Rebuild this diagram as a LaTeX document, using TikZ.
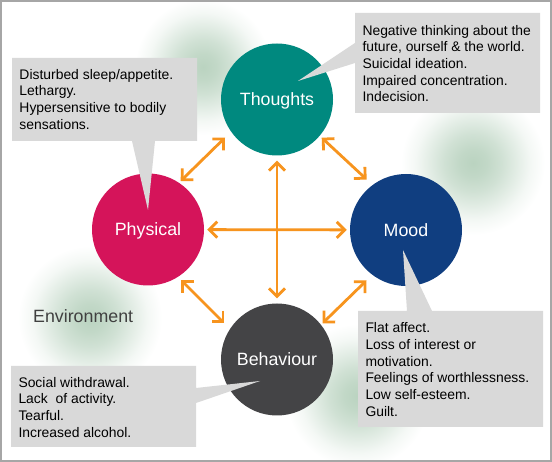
\documentclass[tikz,border=0pt]{standalone}
\usepackage{fontspec}
\setmainfont{Liberation Sans}
\usetikzlibrary{arrows.meta}
\definecolor{cthought}{RGB}{0,137,127}
\definecolor{cphys}{RGB}{213,20,90}
\definecolor{cmood}{RGB}{16,62,128}
\definecolor{cbehav}{RGB}{68,68,70}
\definecolor{callgray}{RGB}{217,217,217}
\definecolor{corange}{RGB}{247,148,30}
\definecolor{framegray}{RGB}{166,166,166}
\definecolor{envtext}{RGB}{64,64,64}
\definecolor{glowc}{RGB}{186,211,192}
\pgfdeclareradialshading{glow}{\pgfpoint{0bp}{0bp}}{color(0bp)=(glowc); color(5bp)=(glowc!88!white); color(10bp)=(glowc!68!white); color(15bp)=(glowc!42!white); color(20bp)=(glowc!16!white); color(25bp)=(white); color(50bp)=(white)}
\tikzset{
  bubble/.style={circle, minimum size=112pt, inner sep=0pt, text=white,
    font=\fontsize{17.8}{20}\selectfont, text height=12.7pt, text depth=0pt},
  calltext/.style={anchor=north west, inner sep=0pt, align=left, text=black,
    font=\fontsize{13.9}{16.7}\selectfont},
  link/.style={draw=corange, line width=2.8pt,
    {Straight Barb[length=8pt,width=16pt]}-{Straight Barb[length=8pt,width=16pt]}},
  callout/.style={fill=callgray},
  glowblob/.style={shading=glow, draw=none}
}
\begin{document}
\begin{tikzpicture}[x=1pt,y=-1pt]
\useasboundingbox (0,0) rectangle (552,462);
\fill[white] (0,0) rectangle (552,462);
% glows
\path[glowblob] (203,67) circle (68);
\path[glowblob] (473,163) circle (72);
\path[glowblob] (90,318) circle (72);
\path[glowblob] (358,396) circle (72);
% circles
\node[bubble, fill=cthought] (T) at (277,99.5) {Thoughts};
\node[bubble, fill=cphys] (P) at (148,229.5) {Physical};
\node[bubble, fill=cmood] (M) at (406,230) {Mood};
\node[bubble, fill=cbehav] (B) at (277,359.5) {Behaviour};
% arrow end points
\coordinate (pt1) at (180.7,181);
\coordinate (pt2) at (225,137.7);
\coordinate (tm1) at (321.7,137.7);
\coordinate (tm2) at (366.7,179.5);
\coordinate (pb1) at (181,280);
\coordinate (pb2) at (224.3,323.3);
\coordinate (mb1) at (366.5,280.5);
\coordinate (mb2) at (322.5,323.3);
\draw[link] (pt1) -- (pt2);
\draw[link] (tm1) -- (tm2);
\draw[link] (pb1) -- (pb2);
\draw[link] (mb1) -- (mb2);
\draw[link, shorten <=5pt, shorten >=5pt] (T) -- (B);
\draw[link, shorten <=3pt, shorten >=3pt] (P) -- (M);
% callouts
\fill[callout] (12,58) -- (197,58) -- (197,141) -- (155,141) -- (148,210) -- (132,141) -- (12,141) -- cycle;
\fill[callout] (355,13) -- (540,13) -- (540,113) -- (355,113) -- (355,63) -- (298,81) -- (355,43) -- cycle;
\fill[callout] (358,311) -- (407,311) -- (403,250) -- (432,311) -- (543,311) -- (543,427) -- (358,427) -- cycle;
\fill[callout] (11,366) -- (196,366) -- (196,388) -- (260,381) -- (196,403) -- (196,447) -- (11,447) -- cycle;
% texts
\node[calltext] (tp) at (19.3,67.3) {\strut Disturbed sleep/appetite.\\Lethargy.\\Hypersensitive to bodily\\sensations.};
\node[calltext] (tt) at (362.3,23.3) {\strut Negative thinking about the\\future, ourself \& the world.\\Suicidal ideation.\\Impaired concentration.\\Indecision.};
\node[calltext] (tm) at (365.3,321) {\strut Flat affect.\\Loss of interest or\\motivation.\\Feelings of worthlessness.\\Low self-esteem.\\Guilt.};
\node[calltext] (tb) at (18.3,375.3) {\strut Social withdrawal.\\Lack\ \ of activity.\\Tearful.\\Increased alcohol.};
\node[anchor=base west, inner sep=0pt, text=envtext, font=\fontsize{17.8}{20}\selectfont] (env) at (33,322.7) {Environment};
% frame
\draw[framegray, line width=2pt] (1,1) rectangle (551,461);
\end{tikzpicture}
\end{document}
